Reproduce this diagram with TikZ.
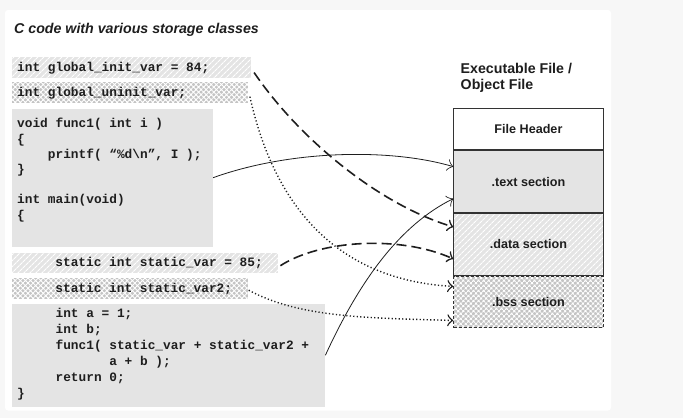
\documentclass[tikz,border=0pt]{standalone}
\usepackage{fontspec}
\setmainfont{Liberation Sans}
\newfontfamily\codefont{Liberation Mono}
\usetikzlibrary{patterns.meta,arrows.meta,calc}

\definecolor{pagebg}{HTML}{F7F7F7}
\definecolor{codegray}{HTML}{E4E4E4}
\definecolor{hatchgray}{HTML}{E4E4E4}
\definecolor{crossgray}{HTML}{C4C4C4}
\definecolor{inkdark}{HTML}{1E1E1E}
\definecolor{edgegray}{HTML}{333333}

\tikzset{
  codebox/.style={fill=codegray, draw=none, inner sep=0pt, anchor=north west},
  hatchfill/.style={preaction={fill=hatchgray},
    pattern={Lines[angle=45,distance=4pt,line width=1.1pt]}, pattern color=white},
  crossfill/.style={preaction={fill=crossgray},
    pattern={Hatch[angle=45,distance=3.6pt,line width=0.9pt]}, pattern color=white},
  code/.style={inner sep=0pt, text=inkdark,
    font=\codefont\bfseries\fontsize{12.8}{15.2}\selectfont},
  heading/.style={inner sep=0pt, text=inkdark, anchor=base west,
    font=\bfseries\fontsize{14.2}{16}\selectfont},
  section/.style={draw=edgegray, line width=0.9pt, inner sep=0pt, anchor=north west,
    minimum width=149.4, text=inkdark, font=\bfseries\fontsize{12.6}{15}\selectfont},
  link/.style={draw=inkdark, line width=0.8pt,
    -{Classical TikZ Rightarrow[length=6pt,width=12pt]}},
  dashlink/.style={link, line width=1.6pt, dash pattern=on 10pt off 5pt},
  dotlink/.style={link, line width=1.4pt, dash pattern=on 1.2pt off 2.3pt}
}

\begin{document}
\begin{tikzpicture}[x=1pt, y=-1pt]
  % page and panel
  \fill[pagebg] (0,0) rectangle (683,418);
  \fill[white, rounded corners=3pt] (5,10) rectangle (611,410.5);
  \useasboundingbox (0,0) rectangle (683,418);

  % left column: source code blocks
  \node[heading] (ctitle) at (14,33) {\itshape C code with various storage classes};

  \node[codebox, hatchfill, minimum width=238.3, minimum height=20.6] (ginit) at (11.7,56.7) {};
  \node[code, anchor=base west] (ginit-code) at ([xshift=5.3pt, yshift=-4pt]ginit.west)
    {int global\_init\_var = 84;};

  \node[codebox, crossfill, minimum width=236.3, minimum height=21] (guninit) at (11.7,81.7) {};
  \node[code, anchor=base west] (guninit-code) at ([xshift=5.3pt, yshift=-4pt]guninit.west)
    {int global\_uninit\_var;};

  \node[codebox, minimum width=201, minimum height=138.4] (funcbox) at (11.7,108.3) {};
  \node[code, anchor=north west, align=left] (func-code) at ([xshift=5.3pt, yshift=-10pt]funcbox.north west)
    {void func1( int i )\\
     \{\\
     ~~~~printf( “\%d\textbackslash n”, I );\\
     \}\\
     \\
     int main(void)\\
     \{};

  \node[codebox, hatchfill, minimum width=266.3, minimum height=19.6] (svar) at (11.7,252.7) {};
  \node[code, anchor=base west] (svar-code) at ([xshift=43.5pt, yshift=-4pt]svar.west)
    {static int static\_var = 85;};

  \node[codebox, crossfill, minimum width=235.6, minimum height=20.6] (svar2) at (11.7,277.7) {};
  \node[code, anchor=base west] (svar2-code) at ([xshift=43.5pt, yshift=-4pt]svar2.west)
    {static int static\_var2;};

  \node[codebox, minimum width=313.3, minimum height=103.4] (bodybox) at (11.7,303.3) {};
  \node[code, anchor=north west, align=left, font=\codefont\bfseries\fontsize{12.8}{16}\selectfont]
    (body-code) at ([xshift=5.3pt, yshift=-5pt]bodybox.north west)
    {~~~~~int a = 1;\\
     ~~~~~int b;\\
     ~~~~~func1( static\_var + static\_var2 +\\
     ~~~~~~~~~~~~a + b );\\
     ~~~~~return 0;\\
     \}};

  % right column: file layout
  \node[heading] (etitle1) at (460.5,73) {Executable File /};
  \node[heading] (etitle2) at (460.5,89.5) {Object File};

  \node[section, fill=white, minimum height=41] (hdr) at (453.3,108.3) {File Header};
  \node[section, fill=codegray, minimum height=62] (txt) at (hdr.south west) {.text section};
  \node[section, hatchfill, minimum height=61.7] (dat) at (txt.south west) {.data section};
  \node[section, crossfill, minimum height=51.6, dash pattern=on 3pt off 2pt] (bss) at (dat.south west) {.bss section};

  % where each piece of code ends up
  \draw[link] (funcbox.east) .. controls (290,150) and (390,148) .. ([yshift=15pt]txt.west);
  \draw[link] (bodybox.east) .. controls (360,280) and (400,225) .. ([yshift=-17pt]txt.west);
  \draw[dashlink] ([xshift=3pt, yshift=-5pt]ginit.east) .. controls (300,140) and (380,205) .. ([yshift=17.5pt]dat.west);
  \draw[dashlink] ([xshift=2pt, yshift=-3pt]svar.east) .. controls (320,240) and (400,235) .. ([yshift=-14.5pt]dat.west);
  \draw[dotlink] ([xshift=1pt, yshift=-4pt]guninit.east) .. controls (275,210) and (340,280) .. ([yshift=15.5pt]bss.west);
  \draw[dotlink] ([xshift=1pt, yshift=-2pt]svar2.east) .. controls (300,318) and (370,318) .. ([yshift=-18.5pt]bss.west);
\end{tikzpicture}
\end{document}
